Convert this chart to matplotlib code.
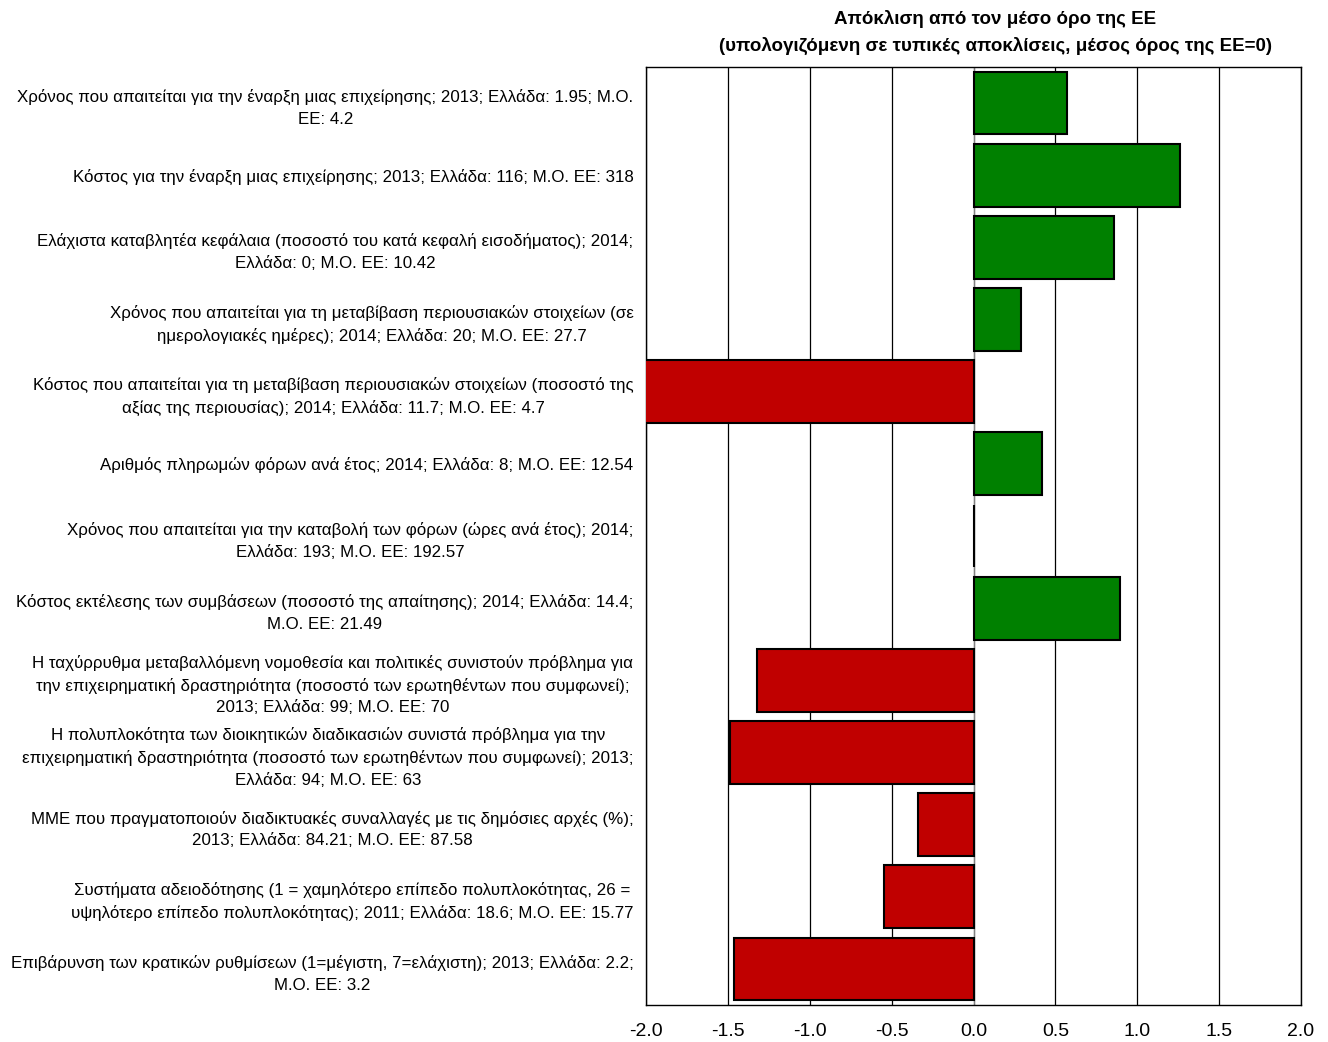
import matplotlib
matplotlib.use("Agg")
import matplotlib.pyplot as plt

plt.rcParams['font.family'] = ['Liberation Sans', 'DejaVu Sans']

labels = [
    "Χρόνος που απαιτείται για την έναρξη μιας επιχείρησης; 2013; Ελλάδα: 1.95; Μ.Ο.\nΕΕ: 4.2",
    "Κόστος για την έναρξη μιας επιχείρησης; 2013; Ελλάδα: 116; Μ.Ο. ΕΕ: 318",
    "Ελάχιστα καταβλητέα κεφάλαια (ποσοστό του κατά κεφαλή εισοδήματος); 2014;\nΕλλάδα: 0; Μ.Ο. ΕΕ: 10.42",
    "Χρόνος που απαιτείται για τη μεταβίβαση περιουσιακών στοιχείων (σε\nημερολογιακές ημέρες); 2014; Ελλάδα: 20; Μ.Ο. ΕΕ: 27.7",
    "Κόστος που απαιτείται για τη μεταβίβαση περιουσιακών στοιχείων (ποσοστό της\nαξίας της περιουσίας); 2014; Ελλάδα: 11.7; Μ.Ο. ΕΕ: 4.7",
    "Αριθμός πληρωμών φόρων ανά έτος; 2014; Ελλάδα: 8; Μ.Ο. ΕΕ: 12.54",
    "Χρόνος που απαιτείται για την καταβολή των φόρων (ώρες ανά έτος); 2014;\nΕλλάδα: 193; Μ.Ο. ΕΕ: 192.57",
    "Κόστος εκτέλεσης των συμβάσεων (ποσοστό της απαίτησης); 2014; Ελλάδα: 14.4;\nΜ.Ο. ΕΕ: 21.49",
    "Η ταχύρρυθμα μεταβαλλόμενη νομοθεσία και πολιτικές συνιστούν πρόβλημα για\nτην επιχειρηματική δραστηριότητα (ποσοστό των ερωτηθέντων που συμφωνεί);\n2013; Ελλάδα: 99; Μ.Ο. ΕΕ: 70",
    "Η πολυπλοκότητα των διοικητικών διαδικασιών συνιστά πρόβλημα για την\nεπιχειρηματική δραστηριότητα (ποσοστό των ερωτηθέντων που συμφωνεί); 2013;\nΕλλάδα: 94; Μ.Ο. ΕΕ: 63",
    "ΜΜΕ που πραγματοποιούν διαδικτυακές συναλλαγές με τις δημόσιες αρχές (%);\n2013; Ελλάδα: 84.21; Μ.Ο. ΕΕ: 87.58",
    "Συστήματα αδειοδότησης (1 = χαμηλότερο επίπεδο πολυπλοκότητας, 26 =\nυψηλότερο επίπεδο πολυπλοκότητας); 2011; Ελλάδα: 18.6; Μ.Ο. ΕΕ: 15.77",
    "Επιβάρυνση των κρατικών ρυθμίσεων (1=μέγιστη, 7=ελάχιστη); 2013; Ελλάδα: 2.2;\nΜ.Ο. ΕΕ: 3.2",
]
values = [0.574, 1.264, 0.855, 0.293, -2.3, 0.421, 0.004, 0.892, -1.325, -1.484, -0.336, -0.544, -1.46]
xticks = [-2.0, -1.5, -1.0, -0.5, 0.0, 0.5, 1.0, 1.5, 2.0]
title = "Απόκλιση από τον μέσο όρο της ΕΕ\n(υπολογιζόμενη σε τυπικές αποκλίσεις, μέσος όρος της ΕΕ=0)"

fig = plt.figure(figsize=(13.28, 10.42), dpi=100)
ax = fig.add_axes([646/1328, 1 - 1005/1042, (1301-646)/1328, (1005-67)/1042])

n = len(values)
ypos = list(range(n))
colors = ['#008000' if v >= 0 else '#C00000' for v in values]
ax.barh(ypos, values, height=0.87, color=colors, edgecolor='black', linewidth=1.5, zorder=3)
ax.set_ylim(n - 0.5, -0.5)
ax.set_xlim(-2, 2)
ax.set_xticks(xticks)
ax.set_xticklabels([f"{t:.1f}" for t in xticks], fontsize=14)
ax.set_yticks(ypos)
ax.set_yticklabels(labels, fontsize=12.2, multialignment='center', linespacing=1.55)
ax.tick_params(axis='y', length=0, pad=9)
ax.tick_params(axis='x', length=0, pad=13)
ax.grid(axis='x', color='black', linewidth=0.9, zorder=0)
ax.set_axisbelow(True)
ax.axvline(0, color='gray', linewidth=0.8, zorder=2)
for s in ax.spines.values():
    s.set_color('black')
    s.set_linewidth(1.0)
ax.set_title(title, fontsize=13.5, fontweight='bold', pad=12, linespacing=1.6, x=0.533)

fig.savefig("out.png", dpi=100)
